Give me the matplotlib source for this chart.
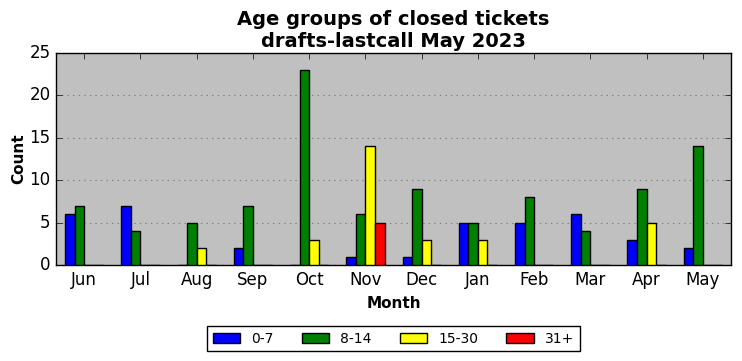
import numpy as np
import matplotlib
matplotlib.use("Agg")
from matplotlib import pyplot as plt

months = ["Jun", "Jul", "Aug", "Sep", "Oct", "Nov", "Dec", "Jan", "Feb", "Mar", "Apr", "May"]
age_groups = ["0-7", "8-14", "15-30", "31+"]
colors = ["blue", "green", "yellow", "red"]

counts_0_7 = [6, 7, 0, 2, 0, 1, 1, 5, 5, 6, 3, 2]
counts_8_14 = [7, 4, 5, 7, 23, 6, 9, 5, 8, 4, 9, 14]
counts_15_30 = [0, 0, 2, 0, 3, 14, 3, 3, 0, 0, 5, 0]
counts_31_plus = [0, 0, 0, 0, 0, 5, 0, 0, 0, 0, 0, 0]

series = [counts_0_7, counts_8_14, counts_15_30, counts_31_plus]

plt.style.use("classic")
fig = plt.figure(figsize=(7.42, 3.61), dpi=100, facecolor="white")
ax = fig.add_axes([56 / 742, 1 - 265 / 361, 675 / 742, 212 / 361])
ax.set_facecolor("silver")

x = np.arange(len(months))
w = 0.17
for i, (vals, name, c) in enumerate(zip(series, age_groups, colors)):
    ax.bar(x + (i - 1.5) * w, vals, width=w, color=c, edgecolor="black",
           linewidth=1, label=name, align="center", zorder=3)

ax.set_xlim(-0.5, len(months) - 0.5)
ax.set_ylim(0, 25)
ax.set_xticks(x)
ax.set_xticklabels(months)
ax.grid(axis="y", color="gray", linestyle=":", linewidth=0.8, zorder=0)
ax.grid(axis="x", visible=False)
ax.set_axisbelow(True)

ax.set_xlabel("Month", fontweight="bold", fontsize=11)
ax.set_ylabel("Count", fontweight="bold", fontsize=11, labelpad=2)
ax.set_title("Age groups of closed tickets\ndrafts-lastcall May 2023",
             fontweight="bold", fontsize=14, y=0.995)

ax.legend(loc="upper center", bbox_to_anchor=(0.5, -0.255), ncol=4,
          fontsize=10, frameon=True, fancybox=False, handlelength=2.0,
          columnspacing=2.0)

fig.savefig("out.png", dpi=100, facecolor="white")
